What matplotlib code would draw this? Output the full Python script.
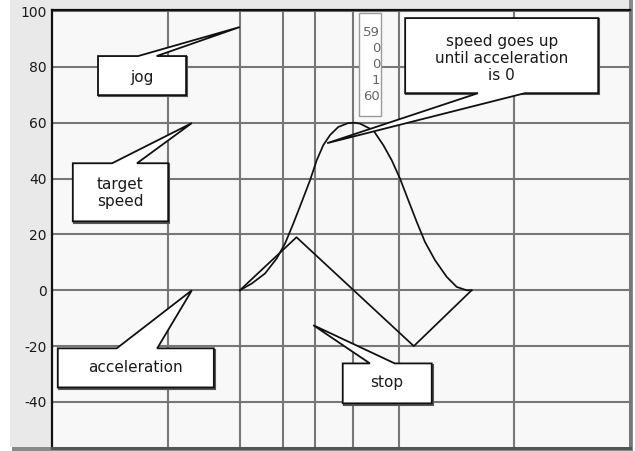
import matplotlib
matplotlib.use("Agg")
import matplotlib.pyplot as plt
from matplotlib.patches import Polygon, Rectangle
import matplotlib.transforms as mtransforms

# ---------------- data ----------------
accel_x = [32.5, 42.3, 62.6, 72.6]
accel_y = [0, 19, -20, 0]

speed_x = [32.5, 34.55, 36.85, 38.88, 40.31, 41.75, 43.2, 44.64, 45.8,
           46.94, 48.1, 49.53, 51.26, 52.4, 53.29, 55.59, 57.32, 58.77,
           60.21, 61.64, 63.1, 64.53, 66.26, 68.29, 70.02, 71.75, 72.6]
speed_y = [0, 2.4, 6.0, 11.4, 16.7, 23.9, 31.6, 39.4, 46.6,
           52.0, 55.6, 58.5, 59.9, 60.0, 59.7, 57.3, 52.0, 46.6,
           40.0, 32.3, 24.5, 17.3, 10.8, 4.8, 1.2, 0, 0]

x_grid = [20, 32.5, 40, 45.5, 52, 60, 80]
y_ticks = [100, 80, 60, 40, 20, 0, -20, -40]

readout_values = ["59", "0", "0", "1", "60"]

labels = ["jog", "target\nspeed", "acceleration", "stop",
          "speed goes up\nuntil acceleration\nis 0"]
tips = [(32.5, 94.3), (24.2, 59.9), (24.2, 0), (45.2, -12.5), (47.6, 52.7)]

# ---------------- layout ----------------
W, H = 635, 451
fig = plt.figure(figsize=(W / 100, H / 100), dpi=100)
fig.patch.set_facecolor("white")

# panel background with shadow (drawn in a background axes)
bg = fig.add_axes([0, 0, 1, 1], zorder=-10)
bg.set_xlim(0, W)
bg.set_ylim(H, 0)
bg.axis("off")
bg.add_patch(Rectangle((12, 0), 633 - 12, 451, facecolor="#8a8a8a",
                       edgecolor="none"))
bg.add_patch(Rectangle((10, 0), 629 - 10, 447, facecolor="#e9e9e9",
                       edgecolor="none"))

ax_left, ax_right, ax_top, ax_bottom = 52, 630, 10, 448
ax = fig.add_axes([ax_left / W, (H - ax_bottom) / H,
                   (ax_right - ax_left) / W, (ax_bottom - ax_top) / H])
ax.set_facecolor("#f8f8f8")
ax.set_xlim(0, 100)
ax.set_ylim(-56.5, 100.4)

ax.set_xticks(x_grid)
ax.set_xticklabels([])
ax.set_yticks(y_ticks)
ax.set_yticklabels([str(v) for v in y_ticks], fontsize=10, color="#1a1a1a",
                   family="DejaVu Sans")
ax.tick_params(axis="both", length=0)
ax.tick_params(axis="y", pad=4)
ax.grid(True, color="#777777", linewidth=1.5)
ax.set_axisbelow(True)

ax.spines["left"].set_color("#111111")
ax.spines["left"].set_linewidth(1.6)
ax.spines["top"].set_color("#111111")
ax.spines["top"].set_linewidth(1.6)
ax.spines["right"].set_color("#777777")
ax.spines["right"].set_linewidth(2.2)
ax.spines["bottom"].set_color("#555555")
ax.spines["bottom"].set_linewidth(2.2)

# curves
ax.plot(speed_x, speed_y, color="#111111", linewidth=1.25, zorder=3,
        solid_joinstyle="round")
ax.plot(accel_x, accel_y, color="#111111", linewidth=1.25, zorder=3)

# callouts: (x0, x1, y_bottom, y_top, base_a, base_b, edge, text_x, text_y)
boxes = [
    (7.96, 23.2, 69.9, 83.9, 14.9, 18.1, "top", 15.6, 76.3),
    (3.6, 20.1, 24.7, 45.5, 10.4, 14.7, "top", 11.85, 34.9),
    (1.0, 28.0, -34.8, -20.8, 11.2, 18.2, "top", 14.5, -27.8),
    (50.3, 65.7, -40.5, -26.2, 55.0, 59.3, "top", 58.0, -33.0),
    (61.1, 94.5, 70.6, 97.5, 73.7, 81.8, "bottom", 77.8, 83.0),
]

shadow_tr = mtransforms.offset_copy(ax.transData, fig=fig, x=1.2, y=-1.2,
                                    units="dots")
for (x0, x1, yb, yt, ba, bb, edge, tx, ty), lab, tip in zip(boxes, labels, tips):
    if edge == "top":
        verts = [(x0, yb), (x1, yb), (x1, yt), (bb, yt), tip, (ba, yt), (x0, yt)]
    else:
        verts = [(x0, yt), (x0, yb), (ba, yb), tip, (bb, yb), (x1, yb), (x1, yt)]
    ax.add_patch(Rectangle((x0, yb), x1 - x0, yt - yb, facecolor="none",
                           edgecolor="#555555", linewidth=1.5, zorder=4,
                           transform=shadow_tr))
    ax.add_patch(Polygon(verts, closed=True, facecolor="white",
                         edgecolor="#111111", linewidth=1.3, zorder=5,
                         joinstyle="miter"))
    ax.text(tx, ty, lab, ha="center", va="center", fontsize=11,
            color="#1a1a1a", family="DejaVu Sans", linespacing=1.2, zorder=6)

# data readout tooltip
ax.add_patch(Rectangle((53.1, 62.4), 57.0 - 53.1, 99.5 - 62.4,
                       facecolor="white", edgecolor="#9a9a9a",
                       linewidth=1.0, zorder=5))
ax.text(56.75, 80.9, "\n".join(readout_values), ha="right", va="center",
        fontsize=9.5, color="#666666", family="DejaVu Sans",
        linespacing=1.3, zorder=6)

fig.savefig("out.png", dpi=100)
